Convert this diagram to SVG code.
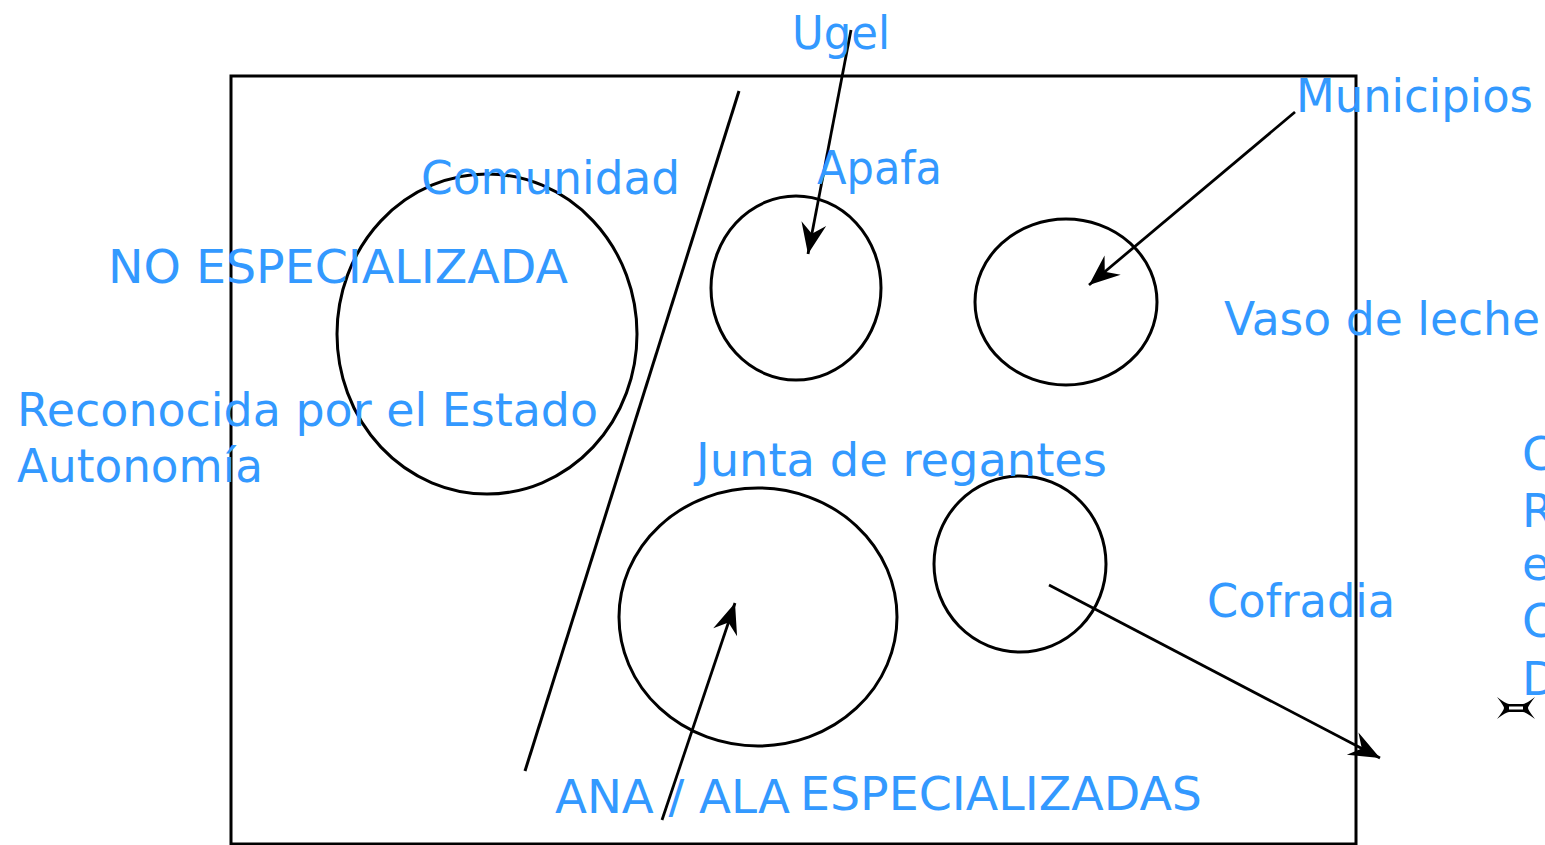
<svg xmlns="http://www.w3.org/2000/svg" width="1545" height="845" viewBox="0 0 1545 845">
<style>
.s{fill:none;stroke:#000;stroke-width:3}
.t{font-family:"DejaVu Sans",Verdana,sans-serif;font-size:46px;fill:#3399ff}
.c{fill:none;stroke:#000;stroke-width:2.8;marker-end:url(#ah)}
</style>
<defs>
<marker id="ah" markerUnits="userSpaceOnUse" markerWidth="40" markerHeight="40" viewBox="-30 -15 35 30" refX="0" refY="0" orient="auto">
<path d="M0,0 L-27,-11 L-18,0 L-27,11 Z" fill="#000"/>
</marker>
</defs>
<rect width="1545" height="845" fill="#fff"/>
<g id="frame"><rect x="231" y="76" width="1125" height="768" class="s"/></g>
<g id="divider"><line x1="739" y1="91" x2="525" y2="771" class="s"/></g>
<g id="comunidad"><ellipse cx="487" cy="334" rx="150" ry="160" class="s"/></g>
<g id="apafa"><ellipse cx="796" cy="288" rx="85" ry="92" class="s"/></g>
<g id="vaso"><ellipse cx="1066" cy="302" rx="91" ry="83" class="s"/></g>
<g id="junta"><ellipse cx="758" cy="617" rx="139" ry="129" class="s"/></g>
<g id="cofradia"><ellipse cx="1020" cy="564" rx="86" ry="88" class="s"/></g>
<g id="connectors">
<line x1="851" y1="30" x2="808" y2="254" class="c"/>
<line x1="1295" y1="112" x2="1089" y2="285" class="c"/>
<line x1="662" y1="820" x2="735" y2="603" class="c"/>
<line x1="1049" y1="585" x2="1380" y2="758" class="c"/>
</g>
<g id="labels">
<text class="t" x="792" y="49" textLength="98" lengthAdjust="spacingAndGlyphs">Ugel</text>
<text class="t" x="1296" y="112" textLength="237" lengthAdjust="spacingAndGlyphs">Municipios</text>
<text class="t" x="817" y="184" textLength="125" lengthAdjust="spacingAndGlyphs">Apafa</text>
<text class="t" x="421" y="194" textLength="259" lengthAdjust="spacingAndGlyphs">Comunidad</text>
<text class="t" x="108" y="283" textLength="460" lengthAdjust="spacingAndGlyphs">NO ESPECIALIZADA</text>
<text class="t" x="1224" y="335" textLength="316" lengthAdjust="spacingAndGlyphs">Vaso de leche</text>
<text class="t" x="17" y="426" textLength="581" lengthAdjust="spacingAndGlyphs">Reconocida por el Estado</text>
<text class="t" x="17" y="482" textLength="246" lengthAdjust="spacingAndGlyphs">Autonomía</text>
<text class="t" x="696" y="476" textLength="411" lengthAdjust="spacingAndGlyphs">Junta de regantes</text>
<text class="t" x="1207" y="617" textLength="188" lengthAdjust="spacingAndGlyphs">Cofradia</text>
<text class="t" x="555" y="813" textLength="235" lengthAdjust="spacingAndGlyphs">ANA / ALA</text>
<text class="t" x="800" y="810" textLength="402" lengthAdjust="spacingAndGlyphs">ESPECIALIZADAS</text>
<text class="t" x="1522" y="470">C</text>
<text class="t" x="1522" y="527">R</text>
<text class="t" x="1522" y="580">e</text>
<text class="t" x="1522" y="637">C</text>
<text class="t" x="1522" y="695">D</text>
</g>
<g id="cursor"><path d="M1497,697 Q1506,704 1509,704 L1523,704 Q1526,704 1535,697 Q1528,706 1528,708 Q1528,710 1535,719 Q1526,712 1523,712 L1509,712 Q1506,712 1497,719 Q1504,710 1504,708 Q1504,706 1497,697 Z M1509,706.5 L1523,706.5 L1523,709.5 L1509,709.5 Z" fill="#000" fill-rule="evenodd"/></g>
</svg>
